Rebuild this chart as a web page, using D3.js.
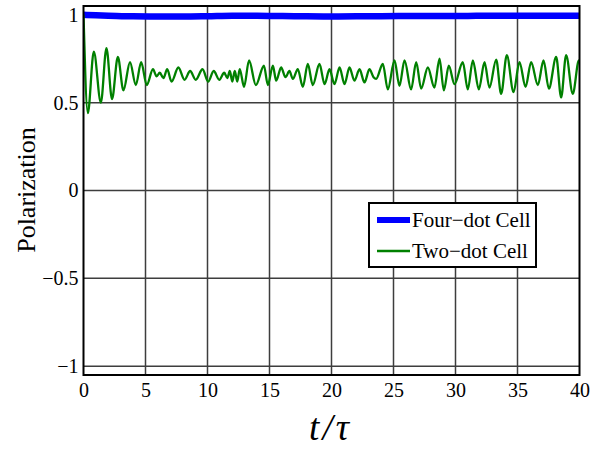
<!DOCTYPE html>
<html>
<head>
<meta charset="utf-8">
<script src="https://cdn.jsdelivr.net/npm/d3@7"></script>
<style>
  html, body { margin: 0; padding: 0; background: #fff; }
  svg { display: block; }
  text { font-family: "Liberation Serif", "Times New Roman", serif; fill: #000; }
</style>
</head>
<body>
<svg id="chart" width="598" height="451"></svg>
<script>
// Time axis ticks and polarization axis ticks
const xTicks = [0, 5, 10, 15, 20, 25, 30, 35, 40];
const yTicks = [-1, -0.5, 0, 0.5, 1];
const yTickLabels = ["\u22121", "\u22120.5", "0", "0.5", "1"];

// Four-dot cell polarization vs t/tau
const fourDotT = [0, 1, 2, 4, 6, 8, 10, 12, 14, 16, 18, 20, 22, 24, 26, 28, 30, 32, 34, 36, 38, 40];
const fourDotP = [1.0, 0.997, 0.995, 0.991, 0.99, 0.99, 0.992, 0.995, 0.994, 0.993, 0.991, 0.99, 0.991, 0.992, 0.993, 0.993, 0.993, 0.994, 0.994, 0.995, 0.995, 0.995];

// Two-dot cell polarization vs t/tau (turning points of the oscillation)
const twoDotT = [0, 0.35, 0.83, 1.4, 1.85, 2.3, 2.77, 3.22, 3.75, 4.22, 4.65, 5.1, 5.6, 5.9, 6.15, 6.45, 6.75, 7.1, 7.65, 8.15, 8.6, 9.05, 9.6, 10.05, 10.5, 10.95, 11.35, 11.6, 11.8, 12.0, 12.2, 12.4, 12.6, 12.95, 13.35, 13.9,
  14.55, 14.87, 15.27, 15.54, 15.94, 16.29, 16.61, 16.88, 17.28, 17.69, 18.09, 18.49, 19.03, 19.44, 19.84, 20.24, 20.65, 21.05, 21.45, 21.85, 22.26, 22.66, 23.06, 23.39, 23.6, 24.14, 24.54, 25.08, 25.48, 25.89, 26.42, 26.83,
  27.23, 27.77, 28.3, 28.71, 29.06, 29.46, 29.92, 30.59, 30.99, 31.4, 31.88, 32.34, 32.74, 33.28, 33.68, 34.14, 34.68, 35.16, 35.65, 36.1, 36.64, 37.1, 37.53, 38.12, 38.52, 38.92, 39.46, 39.95, 40];
const twoDotP = [1.0, 0.44, 0.79, 0.50, 0.81, 0.52, 0.76, 0.57, 0.73, 0.60, 0.73, 0.60, 0.69, 0.65, 0.67, 0.64, 0.69, 0.62, 0.70, 0.63, 0.68, 0.63, 0.69, 0.62, 0.68, 0.63, 0.67, 0.64, 0.68, 0.62, 0.68, 0.62, 0.69, 0.59, 0.74, 0.60,
  0.71, 0.60, 0.71, 0.625, 0.70, 0.645, 0.68, 0.635, 0.69, 0.59, 0.72, 0.60, 0.72, 0.605, 0.69, 0.605, 0.70, 0.605, 0.70, 0.625, 0.69, 0.615, 0.69, 0.645, 0.635, 0.72, 0.575, 0.74, 0.595, 0.74, 0.575, 0.73,
  0.58, 0.70, 0.585, 0.75, 0.57, 0.71, 0.605, 0.73, 0.575, 0.74, 0.575, 0.73, 0.585, 0.745, 0.55, 0.77, 0.56, 0.73, 0.59, 0.73, 0.60, 0.74, 0.58, 0.76, 0.53, 0.77, 0.55, 0.74, 0.735];

const seriesNames = ["Four\u2212dot Cell", "Two\u2212dot Cell"];
const seriesColors = ["#0000ff", "#008000"];

const svg = d3.select("#chart");
const plotLeft = 83.5, plotRight = 579.5, plotTop = 6, plotBottom = 375;

const x = d3.scaleLinear().domain([0, 40]).range([plotLeft, plotRight]);
const y = d3.scaleLinear().domain([-1.05, 1.05]).range([plotBottom, plotTop]);

// Grid
const grid = svg.append("g").attr("stroke", "#3d3d3d").attr("stroke-width", 1.5);
grid.selectAll("line.v").data(xTicks.filter(d => d > 0 && d < 40)).join("line")
  .attr("class", "v")
  .attr("x1", d => x(d)).attr("x2", d => x(d)).attr("y1", plotTop).attr("y2", plotBottom);
grid.selectAll("line.h").data(yTicks).join("line")
  .attr("class", "h")
  .attr("x1", plotLeft).attr("x2", plotRight).attr("y1", d => y(d)).attr("y2", d => y(d));

// Clip region for the data
svg.append("clipPath").attr("id", "plotClip").append("rect")
  .attr("x", plotLeft).attr("y", plotTop).attr("width", plotRight - plotLeft).attr("height", plotBottom - plotTop);

const plot = svg.append("g").attr("clip-path", "url(#plotClip)");

const fourDot = fourDotT.map((t, i) => [t, fourDotP[i]]);
const twoDot = twoDotT.map((t, i) => [t, twoDotP[i]]);

const line = d3.line().x(d => x(d[0])).y(d => y(d[1])).curve(d3.curveMonotoneX);

plot.append("path").datum(fourDot).attr("d", line)
  .attr("fill", "none").attr("stroke", seriesColors[0]).attr("stroke-width", 6.5);
plot.append("path").datum(twoDot).attr("d", line)
  .attr("fill", "none").attr("stroke", seriesColors[1]).attr("stroke-width", 2.3).attr("stroke-linejoin", "round");

// Frame
svg.append("rect").attr("x", plotLeft).attr("y", plotTop).attr("width", plotRight - plotLeft).attr("height", plotBottom - plotTop)
  .attr("fill", "none").attr("stroke", "#000").attr("stroke-width", 2);

// Axes (labels only; ticks are covered by the grid)
const xAxis = d3.axisBottom(x).tickValues(xTicks).tickSize(0).tickPadding(8).tickFormat(d3.format("d"));
const xg = svg.append("g").attr("transform", `translate(0,${plotBottom})`).call(xAxis);
xg.select(".domain").remove();
xg.selectAll("text").attr("font-family", "Liberation Serif").attr("font-size", 20).attr("fill", "#000");

const yAxis = d3.axisLeft(y).tickValues(yTicks).tickSize(0).tickPadding(5)
  .tickFormat((d, i) => yTickLabels[i]);
const yg = svg.append("g").attr("transform", `translate(${plotLeft},0)`).call(yAxis);
yg.select(".domain").remove();
yg.selectAll("text").attr("font-family", "Liberation Serif").attr("font-size", 20).attr("fill", "#000");

// Axis titles
svg.append("text")
  .attr("transform", "translate(29,190) rotate(-90)")
  .attr("text-anchor", "middle").attr("dominant-baseline", "middle")
  .attr("font-size", 26).text("Polarization");

const xt = svg.append("text")
  .attr("x", (plotLeft + plotRight) / 2 - 1).attr("y", 440)
  .attr("text-anchor", "middle").attr("font-size", 37).attr("font-style", "italic")
  .attr("letter-spacing", 3);
xt.append("tspan").text("t");
xt.append("tspan").text("/");
xt.append("tspan").text("\u03c4");

// Legend
const lg = svg.append("g").attr("transform", "translate(369,203)");
lg.append("rect").attr("width", 167).attr("height", 64)
  .attr("fill", "#fff").attr("stroke", "#000").attr("stroke-width", 2);
seriesNames.forEach((name, i) => {
  const cy = 17 + i * 31;
  lg.append("line").attr("x1", 8).attr("x2", 41).attr("y1", cy).attr("y2", cy)
    .attr("stroke", seriesColors[i]).attr("stroke-width", i === 0 ? 6 : 2.5);
  lg.append("text").attr("x", 43).attr("y", cy).attr("dominant-baseline", "central")
    .attr("font-size", 21).text(name);
});
</script>
</body>
</html>
